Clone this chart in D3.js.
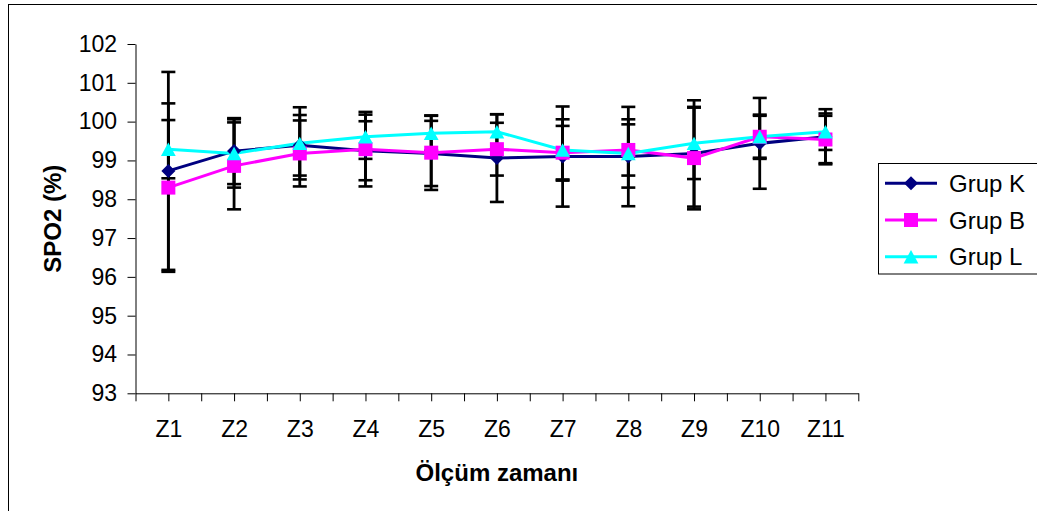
<!DOCTYPE html>
<html>
<head>
<meta charset="utf-8">
<script src="https://cdn.jsdelivr.net/npm/d3@7"></script>
<style>
  html, body { margin: 0; padding: 0; background: #fff; }
  svg { display: block; font-family: "Liberation Sans", Arial, sans-serif; }
</style>
</head>
<body>
<svg id="chart" width="1037" height="511"></svg>
<script>
const categories = ["Z1","Z2","Z3","Z4","Z5","Z6","Z7","Z8","Z9","Z10","Z11"];
const yTicks = [93,94,95,96,97,98,99,100,101,102];
const seriesNames = ["Grup K","Grup B","Grup L"];

const grupK = [98.73,99.24,99.39,99.25,99.18,99.06,99.10,99.10,99.18,99.44,99.61];
const grupB = [98.30,98.86,99.18,99.29,99.20,99.29,99.20,99.27,99.06,99.61,99.54];
const grupL = [99.29,99.18,99.44,99.61,99.70,99.74,99.27,99.18,99.44,99.61,99.74];

const errK = [2.55,0.85,0.78,0.76,0.84,1.13,1.29,1.28,1.37,1.17,0.71];
const errB = [2.17,1.12,0.85,0.96,0.96,0.68,0.69,0.66,1.32,0.54,0.61];
const errL = [0.75,0.88,0.93,0.57,0.45,0.45,0.79,0.88,0.92,0.57,0.47];

const diamond = { draw(ctx, size) { const r = Math.sqrt(size / 2);
  ctx.moveTo(0, -r); ctx.lineTo(r, 0); ctx.lineTo(0, r); ctx.lineTo(-r, 0); ctx.closePath(); } };
const square = { draw(ctx, size) { const h = Math.sqrt(size) / 2;
  ctx.moveTo(-h, -h); ctx.lineTo(h, -h); ctx.lineTo(h, h); ctx.lineTo(-h, h); ctx.closePath(); } };
const triangle = { draw(ctx, size) { const h = Math.sqrt(size) / 2;
  ctx.moveTo(0, -h); ctx.lineTo(h * 1.1, h); ctx.lineTo(-h * 1.1, h); ctx.closePath(); } };

const series = [
  {name: seriesNames[0], values: grupK, err: errK, color: "#000080", shape: diamond, size: 98},
  {name: seriesNames[1], values: grupB, err: errB, color: "#FF00FF", shape: square, size: 196},
  {name: seriesNames[2], values: grupL, err: errL, color: "#00FFFF", shape: triangle, size: 180}
];

const svg = d3.select("#chart");
const pLeft = 135.5, pRight = 858.3, pTop = 44, pBottom = 393.3;

// outer chart frame
svg.append("rect").attr("x", 8.5).attr("y", 4.5).attr("width", 1100).attr("height", 600)
  .attr("fill", "none").attr("stroke", "#000").attr("stroke-width", 1);

const x = d3.scaleBand().domain(categories).range([pLeft, pRight]).padding(0);
const xl = d3.scaleLinear().domain([0, categories.length]).range([pLeft, pRight]);
const y = d3.scaleLinear().domain([93, 102]).range([pBottom, pTop]);

// Y axis
const yAxis = svg.append("g").attr("transform", `translate(${pLeft},0)`)
  .call(d3.axisLeft(y).tickValues(yTicks).tickSize(8).tickSizeOuter(0).tickPadding(10.5).tickFormat(d3.format("d")));
yAxis.selectAll("text").attr("font-size", 23).attr("fill", "#000").attr("font-family", "Liberation Sans, Arial, sans-serif");
yAxis.selectAll("line,path").attr("stroke", "#000");

// X axis with ticks at every half category
const halfTicks = d3.range(0, categories.length * 2 + 1).map(i => i / 2);
const xAxis = svg.append("g").attr("transform", `translate(0,${pBottom})`)
  .call(d3.axisBottom(xl).tickValues(halfTicks).tickSize(8).tickSizeOuter(0).tickPadding(19.5)
    .tickFormat(d => (d % 1 === 0.5) ? categories[Math.floor(d)] : ""));
xAxis.selectAll("text").attr("font-size", 23).attr("fill", "#000").attr("font-family", "Liberation Sans, Arial, sans-serif");
xAxis.selectAll("line,path").attr("stroke", "#000");

const cx = c => x(c) + x.bandwidth() / 2;

// error bars
const eb = svg.append("g").attr("stroke", "#000").attr("stroke-width", 2.8);
series.forEach(s => {
  categories.forEach((c, i) => {
    const m = s.values[i], e = s.err[i];
    const xx = cx(c);
    eb.append("line").attr("x1", xx).attr("x2", xx).attr("y1", y(m + e)).attr("y2", y(m - e));
    [m + e, m - e].forEach(v => {
      eb.append("line").attr("x1", xx - 7).attr("x2", xx + 7).attr("y1", y(v)).attr("y2", y(v)).attr("stroke-width", 2.6);
    });
  });
});

// lines
const line = d3.line().x((d, i) => cx(categories[i])).y(d => y(d));
series.forEach(s => {
  svg.append("path").datum(s.values).attr("d", line)
    .attr("fill", "none").attr("stroke", s.color).attr("stroke-width", 3);
});

// markers
series.forEach(s => {
  svg.append("g").selectAll("path").data(s.values).join("path")
    .attr("transform", (d, i) => `translate(${cx(categories[i])},${y(d)})`)
    .attr("d", d3.symbol().type(s.shape).size(s.size))
    .attr("fill", s.color);
});

// axis titles
svg.append("text").attr("transform", `translate(61,${(pTop + pBottom) / 2}) rotate(-90)`)
  .attr("text-anchor", "middle").attr("font-size", 24).attr("font-weight", "bold").attr("fill", "#000")
  .text("SPO2 (%)");
svg.append("text").attr("x", (pLeft + pRight) / 2).attr("y", 480.5)
  .attr("text-anchor", "middle").attr("font-size", 24).attr("font-weight", "bold").attr("fill", "#000")
  .text("Ölçüm zamanı");

// legend
const lg = svg.append("g");
lg.append("rect").attr("x", 878.5).attr("y", 163.5).attr("width", 200).attr("height", 110.5)
  .attr("fill", "#fff").attr("stroke", "#000").attr("stroke-width", 1);
series.forEach((s, i) => {
  const ry = 183.3 + i * 36.7;
  lg.append("line").attr("x1", 885).attr("x2", 937).attr("y1", ry).attr("y2", ry)
    .attr("stroke", s.color).attr("stroke-width", 3);
  lg.append("path").attr("transform", `translate(911,${ry})`)
    .attr("d", d3.symbol().type(s.shape).size(s.size)).attr("fill", s.color);
  lg.append("text").attr("x", 949).attr("y", ry + 8.5).attr("font-size", 24).attr("fill", "#000").text(s.name);
});
</script>
</body>
</html>
